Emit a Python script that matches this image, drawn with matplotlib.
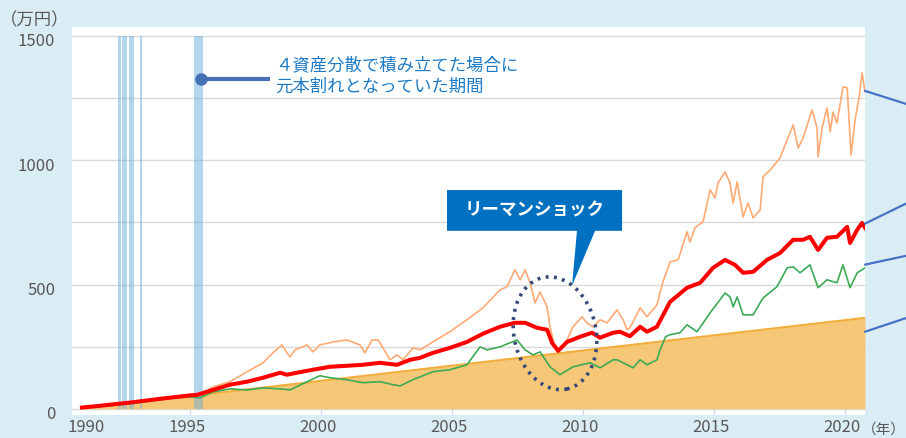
import numpy as np
import matplotlib.pyplot as plt
from matplotlib.patches import Ellipse, Polygon
from matplotlib.transforms import ScaledTranslation

plt.rcParams['font.family'] = ['Noto Sans CJK JP', 'DejaVu Sans']

# 評価額（万円）、時点は西暦の小数表記
orange_x = [1990.88, 1991.56, 1992.25, 1992.71, 1993.17, 1993.85, 1994.43, 1995.00, 1995.38,
            1995.88, 1996.53, 1997.18, 1997.79, 1998.17, 1998.51, 1998.70, 1998.82, 1999.01,
            1999.47, 1999.69, 1999.96, 2000.46, 2000.99, 2001.49, 2001.68, 2001.95, 2002.18,
            2002.37, 2002.63, 2002.90, 2003.13, 2003.51, 2003.78, 2004.27, 2004.92, 2005.57,
            2006.18, 2006.83, 2007.10, 2007.40, 2007.60, 2007.79, 2007.98, 2008.17, 2008.36,
            2008.63, 2008.74, 2008.93, 2009.12, 2009.39, 2009.62, 2009.96, 2010.15, 2010.38,
            2010.65, 2010.92, 2011.30, 2011.53, 2011.68, 2011.79, 2011.91, 2012.18, 2012.44,
            2012.82, 2013.05, 2013.32, 2013.63, 2013.97, 2014.08, 2014.27, 2014.58, 2014.85,
            2015.04, 2015.15, 2015.42, 2015.61, 2015.73, 2015.88, 2016.11, 2016.30, 2016.49,
            2016.76, 2016.87, 2017.14, 2017.52, 2017.79, 2018.02, 2018.21, 2018.40, 2018.74,
            2018.93, 2018.97, 2019.12, 2019.31, 2019.43, 2019.54, 2019.69, 2019.92, 2020.08,
            2020.23, 2020.38, 2020.53, 2020.65, 2020.76]
orange_y = [5, 11, 20, 25, 32, 40, 47, 55, 56,
            88, 109, 149, 185, 225, 257, 225, 209, 237,
            257, 229, 257, 269, 277, 257, 225, 277, 277,
            245, 197, 217, 197, 245, 237, 269, 310, 358,
            406, 478, 491, 559, 519, 559, 507, 426, 470,
            410, 330, 245, 237, 277, 330, 370, 346, 330,
            358, 346, 398, 358, 318, 326, 350, 406, 370,
            418, 511, 591, 599, 712, 671, 728, 752, 881,
            848, 909, 953, 909, 828, 913, 772, 828, 768,
            800, 933, 961, 1009, 1082, 1142, 1049, 1090, 1202,
            1130, 1013, 1130, 1210, 1114, 1194, 1150, 1295, 1291,
            1021, 1162, 1250, 1351, 1275]

red_x = [1990.88, 1991.56, 1992.25, 1992.71, 1993.17, 1993.85, 1994.43, 1995.00, 1995.27,
         1995.88, 1996.53, 1997.18, 1997.79, 1998.44, 1998.70, 1999.08, 1999.69, 2000.34,
         2000.99, 2001.60, 2002.25, 2002.90, 2003.40, 2003.78, 2004.27, 2004.92, 2005.57,
         2006.18, 2006.83, 2007.40, 2007.79, 2008.24, 2008.63, 2008.82, 2009.05, 2009.39,
         2009.89, 2010.34, 2010.65, 2011.15, 2011.41, 2011.79, 2012.18, 2012.44, 2012.82,
         2013.32, 2013.97, 2014.47, 2014.96, 2015.42, 2015.80, 2016.11, 2016.49, 2017.02,
         2017.52, 2018.02, 2018.40, 2018.66, 2018.97, 2019.31, 2019.69, 2020.08, 2020.19,
         2020.46, 2020.65, 2020.76]
red_y = [5, 12, 20, 25, 31, 40, 47, 54, 56,
         76, 97, 109, 125, 145, 137, 145, 157, 169,
         173, 177, 185, 177, 197, 205, 225, 245, 269,
         302, 330, 346, 346, 326, 318, 265, 233, 269,
         290, 306, 286, 306, 310, 292, 330, 310, 330,
         430, 487, 507, 567, 599, 579, 547, 551, 599,
         627, 680, 680, 692, 639, 688, 692, 732, 667,
         720, 748, 728]

green_x = [1990.88, 1991.56, 1992.25, 1992.71, 1993.17, 1993.85, 1994.43, 1995.00, 1995.38,
           1995.88, 1996.53, 1997.18, 1997.79, 1998.44, 1998.82, 1999.47, 1999.96, 2000.34,
           2000.99, 2001.60, 2002.25, 2002.75, 2003.02, 2003.51, 2004.27, 2004.92, 2005.57,
           2006.07, 2006.34, 2006.83, 2007.48, 2007.79, 2008.09, 2008.36, 2008.74, 2009.12,
           2009.62, 2010.27, 2010.65, 2011.15, 2011.30, 2011.91, 2012.18, 2012.44, 2012.82,
           2012.94, 2013.15, 2013.32, 2013.70, 2013.97, 2014.35, 2014.85, 2015.42, 2015.61,
           2015.73, 2015.88, 2016.11, 2016.49, 2016.87, 2017.40, 2017.79, 2018.02, 2018.28,
           2018.66, 2018.97, 2019.31, 2019.69, 2019.92, 2020.19, 2020.46, 2020.76]
green_y = [4, 9, 16, 20, 27, 37, 44, 48, 44,
           68, 80, 76, 84, 80, 76, 109, 133, 125,
           117, 105, 109, 97, 92, 117, 149, 157, 177,
           249, 237, 249, 277, 237, 217, 229, 169, 137,
           169, 185, 165, 197, 197, 165, 197, 177, 197,
           237, 290, 298, 306, 338, 310, 386, 466, 450,
           410, 450, 378, 378, 446, 491, 567, 571, 547,
           579, 487, 519, 507, 579, 487, 547, 567]

# 積立元本
principal_x = [1990.88, 2020.76]
principal_y = [1, 366]

# 元本割れとなっていた期間
loss_start = [1992.26, 1992.40, 1992.66, 1993.09, 1995.16]
loss_end = [1992.37, 1992.60, 1992.85, 1993.18, 1995.51]

year_ticks = [1991.15, 1995, 2000, 2005, 2010, 2015, 2020]
year_labels = ['1990', '1995', '2000', '2005', '2010', '2015', '2020']
value_ticks = [0, 500, 1000, 1500]

bg = '#DAEDF4'
fig = plt.figure(figsize=(9.06, 4.38), dpi=100, facecolor=bg)
ax = fig.add_axes([72 / 906, 23 / 438, 793 / 906, 388 / 438])
ax.set_xlim(1990.50, 2020.76)
ax.set_ylim(-25, 1536)
for s in ax.spines.values():
    s.set_visible(False)

# grid
ax.set_yticks(value_ticks)
ax.set_yticks(np.arange(0, 1501, 250), minor=True)
ax.grid(axis='y', which='both', color='#D9D9D9', linewidth=1)
ax.set_axisbelow(True)
ax.tick_params(axis='y', which='both', length=0, pad=12, labelsize=12, labelcolor='#595959')
for lab in ax.get_yticklabels():
    lab.set_transform(lab.get_transform() + ScaledTranslation(0, -0.04, fig.dpi_scale_trans))
ax.set_xticks(year_ticks)
ax.set_xticklabels(year_labels)
ax.tick_params(axis='x', length=0, pad=3, labelsize=12, labelcolor='#595959')
for lab in ax.get_xticklabels():
    lab.set_transform(lab.get_transform() + ScaledTranslation(-0.03, 0, fig.dpi_scale_trans))
ax.vlines(year_ticks[1:], -25, 0, color='#CFDDEA', lw=1, zorder=1)

# 元本
ax.fill_between(principal_x, 0, principal_y, color='#F5C168', alpha=0.9, lw=0, zorder=2)
ax.plot(principal_x, principal_y, color='#F2AE3C', lw=1.5, zorder=2.2)

# 元本割れ期間
ax.bar(loss_start, 1500, width=np.subtract(loss_end, loss_start), align='edge',
       color='#69AFDD', alpha=0.5, lw=0, zorder=3)

ax.plot(orange_x, orange_y, color='#FFAA75', lw=1.2, zorder=4)
ax.plot(green_x, green_y, color='#3DAA55', lw=1.2, zorder=5)
ax.plot(red_x, red_y, color='#FF0000', lw=2.9, zorder=6)

# 注記
ax.plot([1995.41, 1998.05], [1327, 1327], color='#4472B4', lw=3, zorder=7,
        solid_capstyle='butt')
ax.plot(1995.41, 1327, 'o', ms=8, color='#4472B4', zorder=7)
ax.text(1998.25, 1383, '４資産分散で積み立てた場合に', color='#1E7BC6', fontsize=12.5,
        va='center', ha='left', zorder=8)
ax.text(1998.25, 1295, '元本割れとなっていた期間', color='#1E7BC6', fontsize=12.5,
        va='center', ha='left', zorder=8)

# リーマンショック吹き出し
x0, x1, y0, y1 = 2004.81, 2011.49, 716, 880
callout = Polygon([(x0, y1), (x1, y1), (x1, y0), (2010.46, y0), (2009.58, 495),
                   (2009.77, y0), (x0, y0)], closed=True, facecolor='#0070C0',
                  edgecolor='none', zorder=8)
ax.add_patch(callout)
ax.text((x0 + x1) / 2, (y0 + y1) / 2, 'リーマンショック', color='white', fontsize=12.6,
        fontweight='bold', ha='center', va='center', zorder=9)
ell = Ellipse((0, 0), 0.82, 1.14, angle=12, fill=False, edgecolor='#34497A', lw=2.6,
              linestyle=(0, (0.8, 1.5)),
              transform=fig.dpi_scale_trans + ScaledTranslation(2008.93, 304, ax.transData),
              zorder=8, clip_on=False)
ax.add_patch(ell)

# 凡例への引き出し線
for yv, dx, dy in [(1279, 41, -13), (745, 43, 21), (580, 42, 9), (310, 42, 14)]:
    ax.annotate('', xy=(2020.76, yv), xytext=(dx, dy), textcoords='offset pixels',
                arrowprops=dict(arrowstyle='-', color='#4472C4', lw=1.6, shrinkA=0, shrinkB=0),
                annotation_clip=False, zorder=9)

fig.text(0, 1 - 20 / 438, '（万円）', fontsize=12.5, color='#595959', va='center', ha='left')
fig.text(862 / 906, 1 - 430 / 438, '（年）', fontsize=10.5, color='#595959', va='center', ha='left')

fig.savefig('out.png', dpi=100, facecolor=bg)
